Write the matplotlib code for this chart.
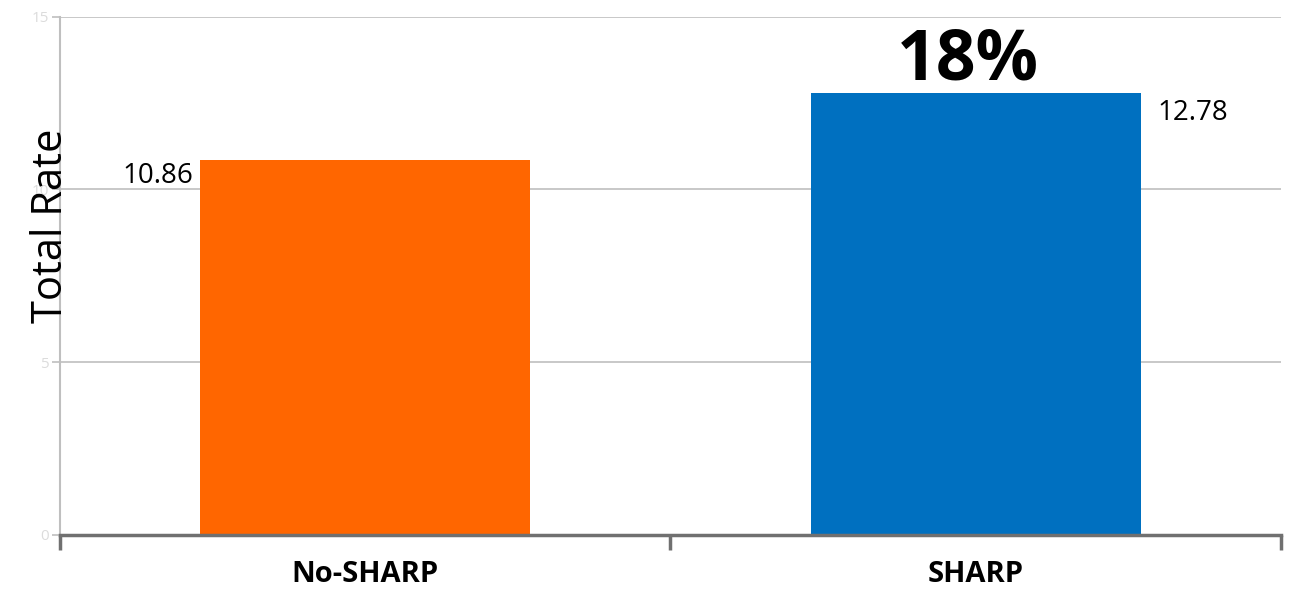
import matplotlib
matplotlib.use("Agg")
import matplotlib.pyplot as plt

plt.rcParams['font.family'] = ['Open Sans', 'DejaVu Sans']

# data
groups = ["No-SHARP", "SHARP"]
rates = [10.86, 12.78]
colors = ["#FF6600", "#0070C0"]
yticks = [0, 5, 10, 15]
gain_text = "18%"

fig = plt.figure(figsize=(12.92, 5.91), dpi=100)
ax = fig.add_axes([0.0464, 0.0948, 0.9451, 0.8772])

x = range(len(groups))
w = 0.54
bars = ax.bar(x, rates, width=w, color=colors, zorder=3)

ax.set_xlim(-0.5, 1.5)
ax.set_ylim(0, 15)
ax.set_yticks(yticks)
ax.set_yticklabels([str(v) for v in yticks], color="#dcdcdc", fontsize=11)
ax.yaxis.grid(True, color="#bfbfbf", linewidth=1.2, zorder=0)
ax.tick_params(axis="y", length=6, color="#bfbfbf", width=1.2, pad=2)

# x axis: category separators as tick marks
ax.set_xticks([-0.5, 0.5, 1.5])
ax.set_xticklabels([])
ax.set_xticks(list(x), minor=True)
ax.set_xticklabels(groups, minor=True, fontsize=21, fontweight="bold")
ax.tick_params(axis="x", which="major", length=11, width=2.5, color="#707070", direction="out")
ax.tick_params(axis="x", which="minor", length=0, pad=18)

for s in ["top", "right"]:
    ax.spines[s].set_visible(False)
ax.spines["left"].set_color("#bfbfbf")
ax.spines["left"].set_linewidth(1.5)
ax.spines["bottom"].set_color("#707070")
ax.spines["bottom"].set_linewidth(2.5)
ax.spines["bottom"].set_zorder(4)

# y label sits over the axis line, like the original
fig.text(62 / 1292, 1 - 226 / 591, "Total Rate", fontsize=30, rotation=90,
         rotation_mode="anchor", ha="center", va="baseline")

# value labels
ax.annotate(f"{rates[0]:.2f}", xy=(0 - w / 2, rates[0]), xytext=(-5, -2),
            textcoords="offset points", ha="right", va="top", fontsize=20)
ax.annotate(f"{rates[1]:.2f}", xy=(1 + w / 2, rates[1]), xytext=(12, -4),
            textcoords="offset points", ha="left", va="top", fontsize=20)
ax.annotate(gain_text, xy=(1, rates[1]), xytext=(-6, -2.3),
            textcoords="offset points", ha="center", va="bottom",
            fontsize=50, fontweight="bold")

fig.savefig("out.png", dpi=100)
